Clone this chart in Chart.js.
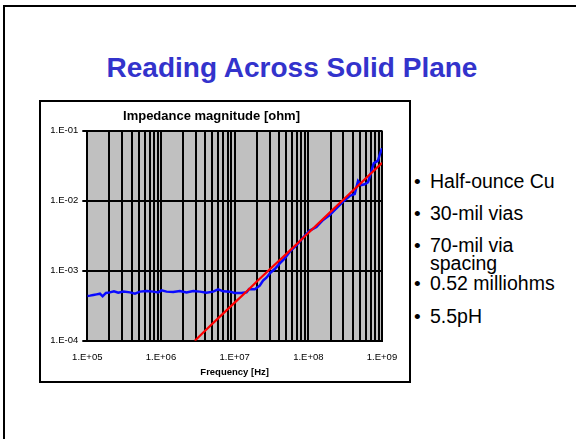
<!DOCTYPE html>
<html>
<head>
<meta charset="utf-8">
<script src="https://cdn.jsdelivr.net/npm/chart.js@4/dist/chart.umd.min.js"></script>
<style>
  html, body { margin: 0; padding: 0; background: #fff; overflow: hidden; }
  body { width: 576px; height: 439px; position: relative;
         font-family: "Liberation Sans", Arial, sans-serif; }
  #slideEdge { position: absolute; left: 3px; top: 5px; width: 573px; height: 434px;
               border-left: 2px solid #000; border-top: 2px solid #000; box-sizing: border-box; }
  #heading { position: absolute; left: 0; width: 584px; top: 51px; text-align: center;
             font-weight: bold; font-size: 28px; color: #3333CC; line-height: 34px; }
  #frame { position: absolute; left: 39px; top: 100px; width: 368px; height: 279px;
           border: 2px solid #000; }
  #chart { position: absolute; left: 0; top: 0; }
  .line { position: absolute; left: 430px; font-size: 19.5px; line-height: 19px; color: #000;
          white-space: nowrap; }
  .bullet::before { content: "\2022"; position: absolute; left: -16px; top: 0; font-size: 19px; }
</style>
</head>
<body>
<div id="slideEdge"></div>
<div id="heading">Reading Across Solid Plane</div>
<div id="frame"><canvas id="chart" width="368" height="279"></canvas></div>
<div class="line bullet" style="top:172px">Half-ounce Cu</div>
<div class="line bullet" style="top:203.5px">30-mil vias</div>
<div class="line bullet" style="top:235.5px">70-mil via</div>
<div class="line" style="top:253.5px">spacing</div>
<div class="line bullet" style="top:274px">0.52 milliohms</div>
<div class="line bullet" style="top:307px">5.5pH</div>
<script>
// Measured impedance magnitude across the plane
const measuredFreq = [1.00e5, 1.087e5, 1.206e5, 1.339e5, 1.485e5, 1.614e5, 1.791e5, 2.03e5, 2.30e5, 2.63e5,
  3.08e5, 3.79e5, 4.43e5, 5.18e5, 6.38e5, 7.85e5, 9.18e5, 1.018e6, 1.19e6, 1.466e6,
  1.805e6, 2.22e6, 2.74e6, 3.37e6, 4.15e6, 5.11e6, 5.97e6, 6.99e6, 8.60e6, 1.005e7,
  1.238e7, 1.447e7, 1.573e7, 1.877e7, 2.19e7, 2.43e7, 2.70e7, 3.06e7, 3.50e7, 4.10e7,
  4.79e7, 5.60e7, 6.89e7, 8.49e7, 1.045e8, 1.287e8, 1.585e8, 1.952e8, 2.40e8, 2.96e8,
  3.64e8, 4.26e8, 4.73e8, 5.25e8, 5.82e8, 6.46e8, 6.95e8, 7.71e8, 8.83e8, 9.30e8, 1.00e9];
const measuredZ = [4.35e-4, 4.40e-4, 4.49e-4, 4.59e-4, 4.69e-4, 4.30e-4, 4.80e-4, 4.90e-4, 5.07e-4, 4.86e-4,
  5.02e-4, 4.90e-4, 4.69e-4, 5.02e-4, 5.13e-4, 5.02e-4, 4.90e-4, 5.24e-4, 5.02e-4, 4.96e-4,
  5.13e-4, 4.90e-4, 5.13e-4, 5.02e-4, 4.86e-4, 5.02e-4, 5.41e-4, 5.07e-4, 5.02e-4, 4.80e-4,
  4.80e-4, 4.90e-4, 5.46e-4, 5.41e-4, 6.10e-4, 7.20e-4, 7.94e-4, 9.36e-4, 1.056e-3, 1.27e-3,
  1.50e-3, 1.87e-3, 2.30e-3, 2.96e-3, 3.73e-3, 4.20e-3, 5.30e-3, 6.24e-3, 7.77e-3, 9.68e-3,
  1.166e-2, 1.245e-2, 1.91e-2, 1.67e-2, 1.71e-2, 1.83e-2, 2.33e-2, 3.41e-2, 3.73e-2, 4.49e-2, 5.60e-2];

// 5.5 pH inductance model line
const modelFreq = [2.88e6, 4e6, 6e6, 1e7, 1.5e7, 2e7, 3e7, 5e7, 1e8, 2e8, 3e8, 5e8, 7e8, 1e9];
const modelZ = [1.00e-4, 1.40e-4, 2.10e-4, 3.50e-4, 5.20e-4, 7.00e-4, 1.05e-3, 1.72e-3, 3.45e-3, 6.90e-3, 1.04e-2, 1.72e-2, 2.42e-2, 3.46e-2];

const xDecades = [1e5, 1e6, 1e7, 1e8, 1e9];
const xTickLabels = ['1.E+05', '1.E+06', '1.E+07', '1.E+08', '1.E+09'];
const yDecades = [1e-4, 1e-3, 1e-2, 1e-1];
const yTickLabels = ['1.E-04', '1.E-03', '1.E-02', '1.E-01'];

const FONT = '"Liberation Sans", Arial, sans-serif';

const plotBackground = {
  id: 'plotBackground',
  beforeDraw(chart) {
    const {ctx, chartArea: a} = chart;
    ctx.save();
    ctx.fillStyle = '#C0C0C0';
    ctx.fillRect(a.left, a.top, a.right - a.left, a.bottom - a.top);
    ctx.restore();
  }
};

const toPoints = (xs, ys) => xs.map((x, i) => ({x: x, y: ys[i]}));

new Chart(document.getElementById('chart'), {
  type: 'line',
  data: {
    datasets: [
      { label: 'Model', data: toPoints(modelFreq, modelZ), borderColor: '#FF0000',
        borderWidth: 2.2, pointRadius: 0, tension: 0, order: 0 },
      { label: 'Measured', data: toPoints(measuredFreq, measuredZ), borderColor: '#0A0AFF',
        borderWidth: 2.5, pointRadius: 0, tension: 0, order: 1 }
    ]
  },
  options: {
    responsive: false,
    animation: false,
    devicePixelRatio: 1,
    layout: { padding: { left: 0, right: 27, top: 0, bottom: 0 } },
    plugins: {
      legend: { display: false },
      tooltip: { enabled: false },
      title: {
        display: true,
        text: 'Impedance magnitude [ohm]',
        color: '#000',
        font: { family: FONT, size: 13, weight: 'bold', lineHeight: 1.2 },
        padding: { top: 7, bottom: 6 }
      }
    },
    scales: {
      x: {
        type: 'logarithmic',
        min: 1e5, max: 1e9,
        afterBuildTicks(scale) {
          const ticks = [];
          for (let d = 0; d < xDecades.length; d++) {
            for (let m = 1; m <= 9; m++) {
              if (d === xDecades.length - 1 && m > 1) break;
              ticks.push({ value: m * xDecades[d] });
            }
          }
          scale.ticks = ticks;
        },
        afterFit(scale) { scale.height = 40.3; },
        grid: { color: '#000', lineWidth: 2, drawTicks: false },
        border: { color: '#000', width: 2 },
        ticks: {
          autoSkip: false, maxRotation: 0, padding: 11, color: '#000',
          font: { family: FONT, size: 9.5 },
          callback(value) {
            const i = xDecades.findIndex(d => Math.abs(d - value) / d < 1e-9);
            return i >= 0 ? xTickLabels[i] : '';
          }
        },
        title: {
          display: true, text: 'Frequency [Hz]', color: '#000',
          font: { family: FONT, size: 9.5, weight: 'bold', lineHeight: 1.2 },
          padding: { top: 0, bottom: 3.3 }
        }
      },
      y: {
        type: 'logarithmic',
        min: 1e-4, max: 1e-1,
        afterBuildTicks(scale) { scale.ticks = yDecades.map(v => ({ value: v })); },
        afterFit(scale) { scale.width = 46.3; },
        grid: { color: '#000', lineWidth: 2, tickLength: 5 },
        border: { color: '#000', width: 2 },
        ticks: {
          padding: 4, color: '#000',
          font: { family: FONT, size: 9.5 },
          callback(value, index) { return yTickLabels[index]; }
        }
      }
    }
  },
  plugins: [plotBackground]
});
</script>
</body>
</html>
